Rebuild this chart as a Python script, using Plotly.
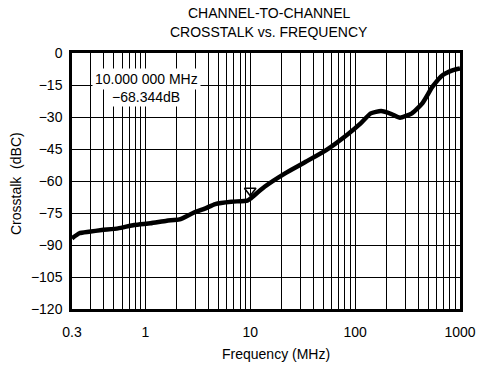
import math
import plotly.graph_objects as go

# ---- data ----
freq_mhz = [0.2, 0.235, 0.29, 0.385, 0.55, 0.785, 1.12, 1.6, 2.12, 2.82, 3.75, 4.64,
            6.6, 9.4, 10, 13.7, 21.5, 33.8, 53, 83.5, 113, 141, 177, 222, 268, 348,
            437, 547, 686, 860, 1000]
crosstalk_db = [-86.9, -84.5, -83.8, -83.0, -82.2, -80.6, -79.8, -78.6, -78.0, -75.1,
                -72.8, -70.8, -69.7, -69.2, -68.3, -62.7, -56.4, -51.0, -45.5, -38.4,
                -33.0, -28.3, -27.2, -28.6, -30.3, -28.3, -23.6, -15.8, -10.3, -8.0, -7.2]
x_tick_vals = [0.2, 1, 10, 100, 1000]
x_tick_text = ["0.3", "1", "10", "100", "1000"]
y_tick_vals = [0, -15, -30, -45, -60, -75, -90, -105, -120]
marker_freq = [10]
marker_db = [-68.344]
marker_text = ["10.000 000 MHz", "\u221268.344dB"]
title_lines = ["CHANNEL-TO-CHANNEL", "CROSSTALK vs. FREQUENCY"]

FONT = "Liberation Sans, Arial, sans-serif"

minor_grid = [d * 10 ** k for k in range(-1, 3) for d in range(2, 10)
              if 0.2 < d * 10 ** k < 1000]

fig = go.Figure()
fig.add_trace(go.Scatter(
    x=freq_mhz, y=crosstalk_db, mode="lines",
    line=dict(color="black", width=4.5, shape="spline", smoothing=0.5),
    hoverinfo="skip", showlegend=False))

# marker triangle (pointing down, sitting just above the trace)
fig.add_trace(go.Scatter(
    x=marker_freq, y=marker_db, mode="markers",
    marker=dict(symbol="triangle-up-open", angle=180, standoff=8, size=10,
                color="black", line=dict(color="black", width=1.6)),
    hoverinfo="skip", showlegend=False))

fig.update_layout(
    width=481, height=367,
    margin=dict(l=72, r=21, t=53, b=58),
    paper_bgcolor="white", plot_bgcolor="white",
    font=dict(family=FONT, size=14, color="black"),
    showlegend=False,
)

fig.update_xaxes(
    type="log", range=[math.log10(0.2), 3], automargin=False,
    tickvals=x_tick_vals, ticktext=x_tick_text,
    ticks="outside", ticklen=8, tickcolor="rgba(0,0,0,0)",
    showgrid=True, gridcolor="black", gridwidth=1.4,
    minor=dict(tickvals=minor_grid, showgrid=True, gridcolor="black", gridwidth=1.2, ticks=""),
    showline=True, linecolor="black", linewidth=2.5, mirror=True,
    zeroline=False, tickfont=dict(size=14, family=FONT, color="black"),
)
fig.update_yaxes(
    range=[-120, 0], tickvals=y_tick_vals, automargin=False,
    ticks="outside", ticklen=4, tickcolor="rgba(0,0,0,0)",
    showgrid=True, gridcolor="black", gridwidth=1.4,
    showline=True, linecolor="black", linewidth=2.5, mirror=True,
    zeroline=False, tickfont=dict(size=14, family=FONT, color="black"),
)

# title (two centred lines)
for txt, ypx in zip(title_lines, [13, 32]):
    fig.add_annotation(text=txt, xref="paper", yref="paper",
                       x=(269 - 72) / 388, y=(309 - ypx) / 256, showarrow=False,
                       xanchor="center", yanchor="middle", font=dict(size=14))

# axis titles
fig.add_annotation(text="Frequency (MHz)", xref="paper", yref="paper",
                   x=(276 - 72) / 388, y=-(354 - 309) / 256, showarrow=False,
                   xanchor="center", yanchor="middle", font=dict(size=14))
fig.add_annotation(text="Crosstalk  (dBC)", xref="paper", yref="paper",
                   x=(16 - 72) / 388, y=(309 - 184) / 256, showarrow=False,
                   textangle=-90, xanchor="center", yanchor="middle", font=dict(size=14))

# marker readout box
fig.add_annotation(text=marker_text[0], xref="paper", yref="paper",
                   x=(146 - 72) / 388, y=(309 - 79) / 256, showarrow=False,
                   xanchor="center", yanchor="middle", bgcolor="white", borderpad=2,
                   font=dict(size=14))
fig.add_annotation(text=marker_text[1], xref="paper", yref="paper",
                   x=(146 - 72) / 388, y=(309 - 97) / 256, showarrow=False,
                   xanchor="center", yanchor="middle", bgcolor="white", borderpad=1,
                   font=dict(size=14))

fig.write_html("out.html")
